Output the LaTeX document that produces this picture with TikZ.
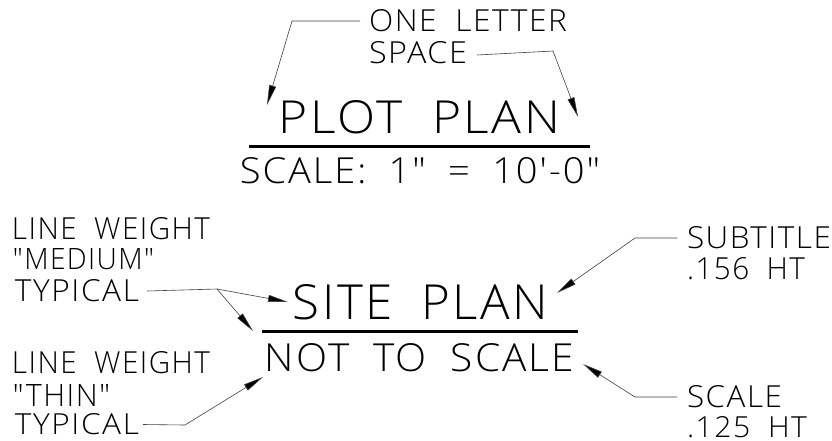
\documentclass[tikz,border=0pt]{standalone}
\usepackage{fontspec}
\usepackage{graphicx}
\usetikzlibrary{arrows.meta}
\newfontfamily\cadfont{Open Sans Light}[LetterSpace=5,WordSpace=1.9]
\tikzset{
  txt/.style={inner sep=0pt,outer sep=0pt,font=\cadfont\fontsize{30}{30}\selectfont},
  leader/.style={draw=black!75,line width=0.6pt,-{Triangle[length=20pt,width=7pt,fill=black]}},
  rulebar/.style={draw=black,line width=3pt}
}
% name, x0, x1, y0, y1, text
\newcommand{\lbl}[6]{%
  \pgfmathsetmacro{\lw}{#3-(#2)}\pgfmathsetmacro{\lh}{#5-(#4)}%
  \pgfmathsetmacro{\lx}{(#2+#3)/2}\pgfmathsetmacro{\ly}{(#4+#5)/2}%
  \node[txt] (#1) at (\lx,\ly) {\resizebox{\lw pt}{\lh pt}{#6}};}
\begin{document}
\begin{tikzpicture}[x=1pt,y=-1pt]
\fill[white] (0,0) rectangle (832,440);
\useasboundingbox (0,0) rectangle (832,440);
\lbl{oneletter}{369}{567}{10}{32}{ONE LETTER}
\lbl{space}{369}{467}{42}{64}{SPACE}
\lbl{plot}{279}{560}{101}{134}{PLOT PLAN}
\lbl{scaleA}{240}{600}{158}{184}{SCALE: 1" = 10'-0"}
\lbl{lwA}{12}{210}{218}{240}{LINE WEIGHT}
\lbl{medium}{13}{154}{249}{270}{"MEDIUM"}
\lbl{typA}{15}{139}{280}{302}{TYPICAL}
\lbl{lwB}{12}{210}{352}{374}{LINE WEIGHT}
\lbl{thin}{13}{110}{384}{406}{"THIN"}
\lbl{typB}{15}{139}{414}{435}{TYPICAL}
\lbl{site}{293}{548}{285}{320}{SITE PLAN}
\lbl{nts}{265}{574}{344}{372}{NOT TO SCALE}
\lbl{subt}{687}{831}{227}{249}{SUBTITLE}
\lbl{ht}{687}{805}{258}{280}{.156 HT}
\lbl{scaleB}{687}{782}{386}{408}{SCALE}
\lbl{htB}{687}{807}{417}{438}{.125 HT}
\coordinate (ruleAl) at (249,146); \coordinate (ruleAr) at (590,146);
\coordinate (ruleBl) at (262,331); \coordinate (ruleBr) at (578,331);
\draw[rulebar] (ruleAl) -- (ruleAr);
\draw[rulebar] (ruleBl) -- (ruleBr);
\coordinate (b1) at (292,21); \coordinate (t1) at (267,105);
\coordinate (b2) at (553,51); \coordinate (t2) at (578,117);
\coordinate (b3) at (217,289); \coordinate (t3a) at (288,302); \coordinate (t3b) at (253,331);
\coordinate (b4) at (185,425); \coordinate (t4) at (263,377);
\coordinate (b5) at (635,238); \coordinate (t5) at (557,293);
\coordinate (b6) at (635,397); \coordinate (t6) at (583,364);
\draw[leader] ([xshift=-9pt]oneletter.west) -- (b1) -- (t1);
\draw[leader] ([xshift=10pt,yshift=-2pt]space.east) -- (b2) -- (t2);
\draw[leader] ([xshift=8pt]typA.east) -- (b3) -- (t3a);
\draw[leader] (b3) -- (t3b);
\draw[leader] ([xshift=4pt]typB.east) -- (b4) -- (t4);
\draw[leader] ([xshift=-10pt]subt.west) -- (b5) -- (t5);
\draw[leader] ([xshift=-10pt]scaleB.west) -- (b6) -- (t6);
\end{tikzpicture}
\end{document}
